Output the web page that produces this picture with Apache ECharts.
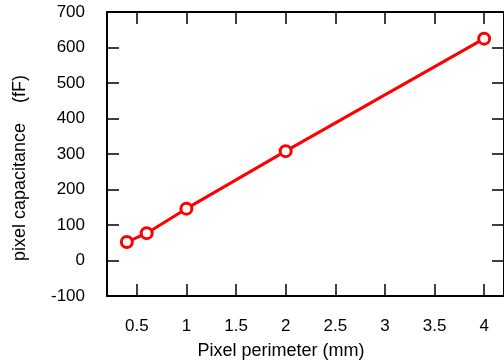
<!DOCTYPE html>
<html>
<head>
<meta charset="utf-8">
<script src="https://cdn.jsdelivr.net/npm/echarts@6/dist/echarts.min.js"></script>
<style>
  html, body { margin: 0; padding: 0; background: #fff; }
  #chart { width: 504px; height: 363px; }
</style>
</head>
<body>
<div id="chart"></div>
<script>
// perimeter (mm) vs capacitance (fF)
var perimeter = [0.4, 0.6, 1, 2, 4];
var capacitance = [52, 77, 146, 308, 625];
var xTicks = [0.5, 1, 1.5, 2, 2.5, 3, 3.5, 4];

var font = 'Liberation Sans, Arial, sans-serif';
var chartDom = document.getElementById('chart');
var myChart = echarts.init(chartDom);

var tickStyle = { color: '#000', width: 1.5 };
var lineStyle = { color: '#000', width: 2 };

var option = {
    animation: false,
    grid: { left: 107, right: -4, top: 12, bottom: 67 },
    xAxis: [
        {
            type: 'value',
            min: 0.2,
            max: 4.2,
            axisLine: { show: true, onZero: false, lineStyle: lineStyle },
            axisTick: { show: true, inside: true, length: 12, lineStyle: tickStyle, customValues: xTicks },
            axisLabel: { color: '#000', fontSize: 17, fontFamily: font, margin: 22, customValues: xTicks },
            splitLine: { show: false }
        },
        {
            type: 'value',
            position: 'top',
            min: 0.2,
            max: 4.2,
            axisLine: { show: true, onZero: false, lineStyle: lineStyle },
            axisTick: { show: true, inside: true, length: 12, lineStyle: tickStyle, customValues: xTicks },
            axisLabel: { show: false },
            splitLine: { show: false }
        }
    ],
    yAxis: [
        {
            type: 'value',
            min: -100,
            max: 700,
            interval: 100,
            axisLine: { show: true, onZero: false, lineStyle: lineStyle },
            axisTick: { show: true, inside: true, length: 12, lineStyle: tickStyle },
            axisLabel: { color: '#000', fontSize: 17, fontFamily: font, margin: 22 },
            splitLine: { show: false }
        },
        {
            type: 'value',
            position: 'right',
            min: -100,
            max: 700,
            interval: 100,
            axisLine: { show: true, onZero: false, lineStyle: lineStyle },
            axisTick: { show: true, inside: true, length: 12, lineStyle: tickStyle },
            axisLabel: { show: false },
            splitLine: { show: false }
        }
    ],
    graphic: [
        {
            type: 'text',
            x: 281, y: 351,
            style: {
                text: 'Pixel perimeter (mm)',
                font: '18px ' + font,
                fill: '#000',
                align: 'center',
                verticalAlign: 'middle'
            }
        },
        {
            type: 'text',
            x: 20, y: 168,
            rotation: Math.PI / 2,
            style: {
                text: 'pixel capacitance    (fF)',
                font: '18px ' + font,
                fill: '#000',
                align: 'center',
                verticalAlign: 'middle'
            }
        }
    ],
    series: [
        {
            type: 'line',
            data: perimeter.map(function (p, i) { return [p, capacitance[i]]; }),
            symbol: 'circle',
            symbolSize: 11,
            lineStyle: { color: '#ff0000', width: 3 },
            itemStyle: { color: '#fff', borderColor: '#ff0000', borderWidth: 3 }
        }
    ]
};

option && myChart.setOption(option);
</script>
</body>
</html>
